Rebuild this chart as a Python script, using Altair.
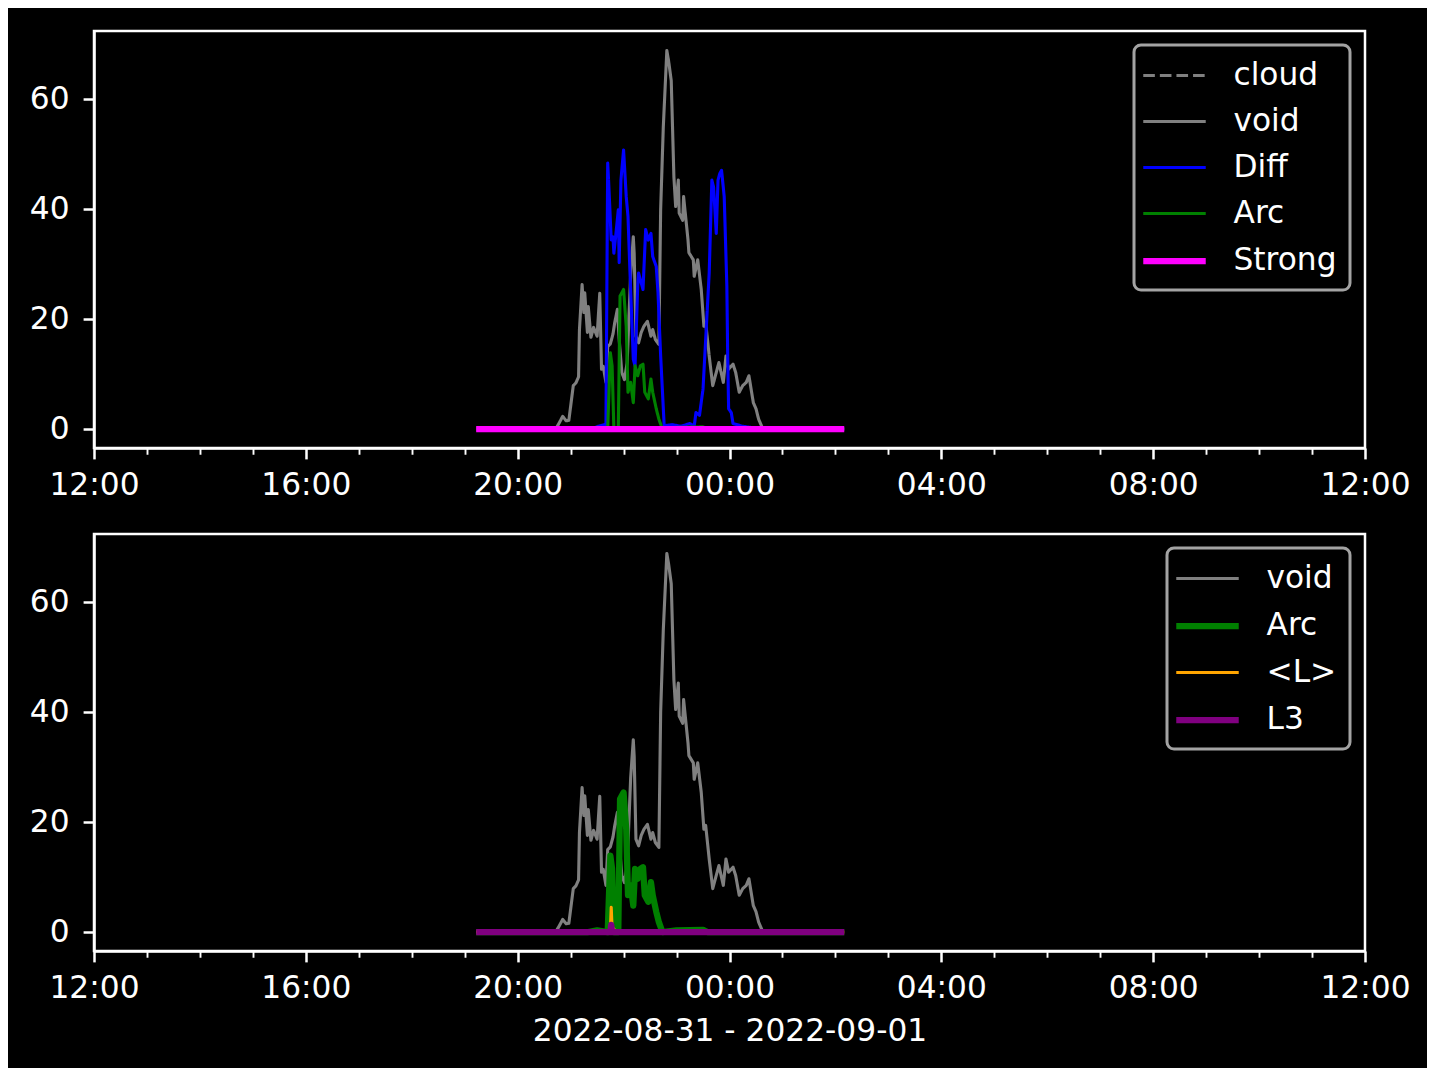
import altair as alt
import pandas as pd

# ---------------- data (clock time HH:MM, value) ----------------
CLOUD_T = ["19:13", "02:10"]
CLOUD_V = [0.0, 0.0]

VOID_T = ["20:43", "20:46", "20:51", "20:55", "20:58", "21:03", "21:06", "21:09", "21:10", "21:13",
          "21:15", "21:16", "21:19", "21:20", "21:23", "21:26", "21:30", "21:33", "21:35", "21:37",
          "21:40", "21:42", "21:45", "21:48", "21:50", "21:53", "21:55", "21:58", "22:01", "22:04",
          "22:08", "22:11", "22:12", "22:14", "22:17", "22:20", "22:23", "22:27", "22:31", "22:33",
          "22:36", "22:40", "22:42", "22:45", "22:49", "22:51", "22:54", "22:57", "22:59", "23:02",
          "23:03", "23:07", "23:08", "23:13", "23:14", "23:19", "23:20", "23:24", "23:28", "23:31",
          "23:33", "23:37", "23:41", "23:45", "23:48", "23:53", "23:56", "23:59", "00:04", "00:07",
          "00:11", "00:15", "00:19", "00:22", "00:27", "00:30", "00:33", "00:37"]
VOID_V = [0.0, 0.8, 2.3, 1.5, 1.6, 7.9, 8.4, 9.5, 18.1, 26.3,
          21.2, 24.8, 17.6, 22.3, 16.7, 18.5, 16.9, 24.7, 10.9, 11.4,
          8.5, 15.0, 15.5, 17.3, 19.4, 21.8, 16.3, 10.3, 9.0, 12.0,
          28.0, 35.0, 32.0, 16.9, 15.7, 17.6, 18.7, 19.6, 16.9, 18.1,
          16.3, 15.4, 40.0, 55.0, 68.9, 67.0, 63.4, 45.9, 40.5, 45.3,
          39.3, 38.0, 42.3, 34.4, 32.1, 30.8, 27.8, 30.8, 25.4, 18.7,
          19.4, 13.3, 7.9, 10.3, 12.1, 8.5, 13.3, 10.9, 11.8, 10.3,
          6.7, 7.9, 8.5, 9.7, 4.8, 3.7, 1.8, 0.3]

DIFF_T = ["19:13", "21:25", "21:31", "21:38", "21:40", "21:42", "21:43", "21:46", "21:48", "21:49",
          "21:51", "21:54", "21:55", "21:57", "22:00", "22:03", "22:05", "22:07", "22:11", "22:13",
          "22:16", "22:17", "22:22", "22:25", "22:28", "22:31", "22:33", "22:37", "22:39", "22:42",
          "22:46", "22:55", "23:05", "23:15", "23:20", "23:22", "23:26", "23:30", "23:33", "23:37",
          "23:40", "23:42", "23:45", "23:47", "23:49", "23:51", "23:54", "23:57", "23:58", "23:59",
          "00:02", "00:04", "00:15", "00:24", "00:30", "02:10"]
DIFF_V = [0.0, 0.0, 0.5, 0.8, 0.3, 48.4, 45.3, 34.4, 35.0, 32.0,
          35.0, 39.9, 30.3, 45.3, 50.8, 42.3, 38.7, 29.6, 12.7, 11.5,
          26.0, 28.4, 25.4, 36.3, 34.4, 35.6, 31.4, 29.6, 24.8, 13.3,
          0.6, 0.8, 0.5, 1.0, 0.5, 3.0, 2.5, 7.3, 16.3, 28.4,
          45.3, 44.0, 35.6, 45.3, 46.5, 47.1, 42.3, 26.0, 12.7, 3.7,
          3.0, 1.0, 0.5, 0.3, 0.0, 0.0]

ARC_T = ["19:13", "21:20", "21:30", "21:42", "21:45", "21:47", "21:49", "21:54", "21:56", "22:00",
         "22:03", "22:05", "22:08", "22:11", "22:13", "22:16", "22:19", "22:22", "22:24", "22:28",
         "22:31", "22:33", "22:37", "22:40", "22:44", "23:00", "23:30", "23:35", "02:10"]
ARC_V = [0.0, 0.0, 0.3, 0.0, 13.9, 11.5, 0.0, 0.0, 24.2, 25.4,
         18.7, 6.7, 8.5, 4.8, 11.5, 9.7, 11.5, 11.8, 6.7, 5.5,
         9.1, 6.7, 3.7, 1.8, 0.0, 0.3, 0.4, 0.0, 0.0]

STRONG_T = ["19:13", "02:10"]
STRONG_V = [0.0, 0.0]

L_T = ["19:13", "21:45", "21:46", "21:47", "21:49", "21:50", "02:10"]
L_V = [0.0, 0.0, 4.5, 0.5, 0.6, 0.0, 0.0]

L3_T = ["19:13", "21:45", "21:46", "21:47", "02:10"]
L3_V = [0.0, 0.0, 1.3, 0.0, 0.0]

TOP_NAMES = ["cloud", "void", "Diff", "Arc", "Strong"]
TOP_COLORS = ["#808080", "#808080", "#0000ff", "#008000", "#ff00ff"]
TOP_WIDTHS = [3.1, 3.1, 3.1, 3.1, 6.25]
TOP_DASHES = [[11.6, 5.0], [1, 0], [1, 0], [1, 0], [1, 0]]

BOT_NAMES = ["void", "Arc", "<L>", "L3"]
BOT_COLORS = ["#808080", "#008000", "#ffa500", "#800080"]
BOT_WIDTHS = [3.1, 6.25, 3.1, 6.25]

X_TITLE = "2022-08-31 - 2022-09-01"
Y_TICKS = [0, 20, 40, 60]

FONT = "DejaVu Sans"
FS = 31.25


def stamp(hhmm):
    h = int(hhmm[:2])
    day = "2022-08-31" if h >= 12 else "2022-09-01"
    return f"{day}T{hhmm}:00"


def frame(name, ts, vs):
    assert len(ts) == len(vs)
    return pd.DataFrame({"t": [stamp(x) for x in ts], "v": vs, "series": name})


hour_values = []
for i in range(25):
    hh = 12 + i
    if hh < 24:
        hour_values.append(alt.DateTime(year=2022, month=8, date=31, hours=hh))
    else:
        hour_values.append(alt.DateTime(year=2022, month=9, date=1, hours=hh - 24))

major = "hours(datum.value) % 4 == 0"


def x_enc(title):
    axis = alt.Axis(
        values=hour_values,
        labelExpr=f"{major} ? timeFormat(datum.value, '%H:%M') : ''",
        labelFlush=False,
        labelOverlap=False,
        tickSize={"condition": {"test": major, "value": 10.9}, "value": 6.25},
        tickWidth={"condition": {"test": major, "value": 2.5}, "value": 1.9},
        labelPadding=11,
        title=title if title else None,
        titlePadding=11,
    )
    return alt.X(
        "t:T",
        scale=alt.Scale(domain=[hour_values[0], hour_values[-1]], nice=False),
        axis=axis,
    )


def y_enc():
    return alt.Y(
        "v:Q",
        scale=alt.Scale(domain=[-3.45, 72.45], nice=False, zero=False),
        axis=alt.Axis(values=Y_TICKS, tickSize=10.9, tickWidth=2.5, labelPadding=14, title=None),
    )


def panel(frames, names, colors, widths, dashes, title, legend_x):
    def leg():
        return alt.Legend(title=None, orient="none", legendX=legend_x, legendY=14)

    layers = []
    for f in frames:
        enc = dict(
            x=x_enc(title),
            y=y_enc(),
            color=alt.Color("series:N", scale=alt.Scale(domain=names, range=colors), legend=leg()),
            strokeWidth=alt.StrokeWidth("series:N",
                                        scale=alt.Scale(type="ordinal", domain=names, range=widths),
                                        legend=leg()),
        )
        if dashes is not None:
            enc["strokeDash"] = alt.StrokeDash("series:N", scale=alt.Scale(domain=names, range=dashes),
                                               legend=leg())
        layers.append(alt.Chart(f).mark_line(strokeJoin="round").encode(**enc))
    return alt.layer(*layers).properties(width=1271, height=417)


top = panel(
    [frame("cloud", CLOUD_T, CLOUD_V), frame("void", VOID_T, VOID_V), frame("Diff", DIFF_T, DIFF_V),
     frame("Arc", ARC_T, ARC_V), frame("Strong", STRONG_T, STRONG_V)],
    TOP_NAMES, TOP_COLORS, TOP_WIDTHS, TOP_DASHES, None, 1040)

bottom = panel(
    [frame("void", VOID_T, VOID_V), frame("Arc", ARC_T, ARC_V), frame("<L>", L_T, L_V),
     frame("L3", L3_T, L3_V)],
    BOT_NAMES, BOT_COLORS, BOT_WIDTHS, None, X_TITLE, 1073)

chart = (
    alt.vconcat(top, bottom, spacing=86, bounds="flush")
    .resolve_scale(color="independent", strokeWidth="independent", strokeDash="independent")
    .properties(background="black", padding={"left": 20, "top": 21, "right": 15, "bottom": 20})
    .configure_view(stroke="white", strokeWidth=2.5, fill="black")
    .configure_axis(
        domainColor="white", domainWidth=2.5, tickColor="white", labelColor="white",
        labelFont=FONT, labelFontSize=FS, titleFont=FONT, titleFontSize=FS,
        titleColor="white", titleFontWeight="normal", grid=False,
    )
    .configure_legend(
        fillColor="black", strokeColor="#a3a3a3",
        strokeWidth=3, cornerRadius=7, padding=13, labelFont=FONT, labelFontSize=FS,
        labelColor="white", symbolType="M-2,0H2", symbolSize=976, symbolOffset=8.5,
        labelOffset=40, rowPadding=13, symbolFillColor="transparent", labelLimit=400,
    )
)

chart.save("out.html", embed_options={"renderer": "svg", "actions": False})
